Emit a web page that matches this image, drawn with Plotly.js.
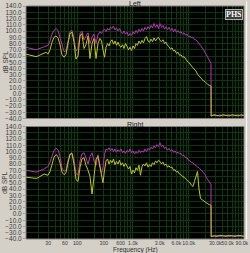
<!DOCTYPE html>
<html>
<head>
<meta charset="utf-8">
<script src="https://cdn.plot.ly/plotly-3.0.1.min.js"></script>
<style>
html,body{margin:0;padding:0;background:#d4d0c8;}
#chart{width:250px;height:253px;}
</style>
</head>
<body>
<div id="chart"></div>
<script>
// Frequency points (Hz)
const freq = [
  12.0, 13.0, 14.2, 15.4, 16.7, 18.1, 19.7, 21.4, 23.2, 25.3, 27.4, 29.8, 32.4, 35.1, 38.2, 41.5, 45.0, 48.9, 53.1, 57.7,
  62.7, 68.1, 74.0, 80.3, 87.2, 94.8, 103, 112, 121, 132, 143, 156, 169, 184, 199, 217, 235, 256,
  272, 289, 308, 328, 349, 371, 395, 420, 447, 475, 506, 538, 572, 609, 648, 690, 734, 781, 831, 884,
  940, 1000, 1064, 1132, 1204, 1281, 1363, 1451, 1543, 1642, 1747, 1859, 1978, 2105, 2239, 2383, 2535, 2697, 2870, 3053,
  3249, 3457, 3678, 3913, 4164, 4430, 4714, 5016, 5337, 5678, 6041, 6428, 6839, 7277, 7742, 8238, 8765, 9322, 9918, 10553,
  11228, 11946, 12711, 13524, 14389, 15310, 16289, 17331, 18440, 19620, 20875, 22210, 23631, 25143,
  25300, 28460, 32220, 36470, 41290, 46730, 52900, 59890, 67790, 76750, 86880, 98360
];

// Left channel (top panel), dB SPL
const leftMag = [
  74, 73, 72, 71, 70.5, 70, 71, 72, 73, 74, 75, 77, 84, 95, 101, 104, 101, 90, 75, 67,
  68, 85, 99, 101, 88, 68, 72, 96, 100, 86, 92, 97, 80, 90, 95, 80, 94, 99,
  96, 100, 103, 99, 104, 101, 106, 104, 108, 102, 105, 100, 104, 99, 96, 100, 95, 98, 92, 96,
  93, 99, 95, 101, 97, 103, 99, 104, 100, 106, 102, 107, 103, 109, 105, 112, 106, 110, 104, 112,
  106, 109, 103, 107, 102, 106, 101, 104, 99, 103, 98, 101, 97, 99, 95, 97, 93, 95, 91, 92,
  89, 90, 86, 86, 82, 80, 77, 74, 70, 66, 61, 56, 52, 48,
  -36, -35, -36, -34, -36, -35, -34, -36, -35, -34, -36, -35
];
const leftYel = [
  63, 62, 61, 60, 59.5, 59, 60, 61.5, 63, 65, 66, 63, 70, 82, 90, 92, 89, 78, 62, 58,
  62, 80, 96, 98, 82, 55, 60, 92, 96, 72, 78, 92, 56, 80, 88, 56, 80, 88,
  84, 70, 58, 74, 80, 76, 83, 86, 79, 84, 77, 82, 76, 74, 78, 72, 80, 75, 70, 74,
  69, 76, 72, 80, 77, 84, 80, 85, 81, 88, 91, 84, 82, 87, 83, 89, 84, 88, 90, 85,
  83, 86, 80, 82, 77, 75, 71, 73, 68, 69, 64, 66, 61, 62, 58, 59, 55, 52, 50, 46,
  44, 41, 38, 36, 31, 28, 25, 23, 20, 19, 16, 14, 13, 12,
  -36, -34, -35, -36, -34, -35, -36, -34, -35, -36, -34, -35
];

// Right channel (bottom panel), dB SPL
const rightMag = [
  70, 69.5, 69, 68, 67.5, 67, 68, 69, 70.5, 72, 74, 76, 83, 94, 102, 105, 103, 92, 74, 68,
  70, 86, 96, 98, 86, 65, 62, 85, 96, 98, 88, 80, 92, 98, 85, 78, 95, 80,
  65, 75, 95, 104, 102, 106, 101, 105, 100, 104, 99, 103, 100, 104, 98, 101, 97, 102, 99, 104,
  98, 101, 96, 100, 97, 102, 98, 101, 99, 104, 100, 105, 102, 107, 104, 109, 106, 111, 108, 114,
  108, 110, 105, 107, 102, 105, 101, 103, 99, 101, 97, 99, 96, 97, 93, 94, 90, 90, 86, 85,
  82, 82, 79, 78, 75, 74, 72, 69, 66, 63, 58, 54, 50, 47,
  -36, -35, -34, -36, -35, -34, -36, -35, -34, -36, -35, -34
];
const rightYel = [
  59, 58.5, 58, 57.5, 57, 57, 58, 60, 62, 64, 63, 62, 68, 80, 91, 95, 92, 82, 67, 63,
  66, 82, 95, 97, 80, 55, 52, 75, 88, 90, 78, 70, 60, 32, 60, 88, 92, 75,
  60, 50, 70, 85, 88, 80, 86, 82, 88, 79, 84, 80, 86, 78, 82, 76, 81, 77, 72, 76,
  64, 70, 66, 74, 70, 78, 62, 76, 80, 77, 82, 75, 79, 76, 82, 79, 85, 82, 86, 84,
  80, 83, 78, 80, 75, 77, 74, 75, 70, 71, 67, 68, 64, 63, 60, 59, 56, 54, 52, 50,
  46, 44, 52, 62, 68, 40, 25, 23, 21, 20, 18, 16, 15, 14,
  -36, -35, -36, -34, -35, -36, -34, -35, -36, -34, -35, -36
];

const xTickVals = [30, 60, 100, 300, 600, 1000, 3000, 6000, 10000, 30000, 50000, 90000];
const xTickText = ['30', '60', '100', '300', '600', '1.0k', '3.0k', '6.0k', '10.0k', '30.0k', '50.0k', '90.0k'];
const xMinorVals = [20, 40, 50, 70, 80, 90, 200, 400, 500, 700, 800, 900, 2000, 4000, 5000, 7000, 8000, 9000, 20000, 40000, 60000, 70000, 80000];

const MAG = '#c030c0';
const YEL = '#c8c80c';
const GRID = '#063c06';
const TXT = '#3a3a3a';
const FONT = 'Liberation Sans, Arial, sans-serif';
const NARROW = 'Liberation Sans Narrow, Arial Narrow, Liberation Sans, sans-serif';

const traces = [
  {x: freq, y: leftMag, xaxis: 'x', yaxis: 'y', mode: 'lines', line: {color: MAG, width: 1}},
  {x: freq, y: leftYel, xaxis: 'x', yaxis: 'y', mode: 'lines', line: {color: YEL, width: 1}},
  {x: freq, y: rightMag, xaxis: 'x2', yaxis: 'y2', mode: 'lines', line: {color: MAG, width: 1}},
  {x: freq, y: rightYel, xaxis: 'x2', yaxis: 'y2', mode: 'lines', line: {color: YEL, width: 1}}
];

function xAxis(showLabels, anchor) {
  return {
    type: 'log', range: [1.079, 4.993], anchor: anchor,
    tickmode: 'array', tickvals: xTickVals, ticktext: xTickText, tickangle: 0,
    showticklabels: showLabels, ticks: '', showgrid: true, gridcolor: GRID, gridwidth: 1,
    minor: {tickmode: 'array', tickvals: xMinorVals, showgrid: true, gridcolor: GRID, gridwidth: 1, ticks: ''},
    zeroline: false, showline: false,
    tickfont: {family: NARROW, size: 5.2, color: TXT}, ticklabelstandoff: 0
  };
}
function yAxis(domain, anchor) {
  return {
    domain: domain, anchor: anchor, range: [-40, 140], dtick: 10, tick0: 0, tickformat: '.1f',
    showgrid: true, gridcolor: GRID, gridwidth: 1, zeroline: false, showline: false,
    ticks: 'outside', ticklen: 2, tickcolor: '#9a9a9a',
    tickfont: {family: FONT, size: 6.5, color: TXT}
  };
}

const layout = {
  width: 250, height: 253,
  margin: {l: 26, r: 6, t: 6, b: 14, pad: 0},
  paper_bgcolor: '#d4d0c8', plot_bgcolor: '#000000',
  showlegend: false,
  xaxis: xAxis(false, 'y'),
  yaxis: yAxis([0.5172, 1], 'x'),
  xaxis2: xAxis(true, 'y2'),
  yaxis2: yAxis([0, 0.4828], 'x2'),
  annotations: [
    {text: 'Left', xref: 'paper', yref: 'paper', x: 0.5, y: 1, yshift: 3, xanchor: 'center', yanchor: 'middle', showarrow: false, font: {family: FONT, size: 7, color: '#202020'}},
    {text: 'Right', xref: 'paper', yref: 'paper', x: 0.5, y: 0.5, yshift: -2, xanchor: 'center', yanchor: 'middle', showarrow: false, font: {family: FONT, size: 7, color: '#202020'}},
    {text: 'Frequency (Hz)', xref: 'paper', yref: 'paper', x: 0.5, y: 0, yshift: -11, xanchor: 'center', yanchor: 'middle', showarrow: false, font: {family: FONT, size: 6.5, color: '#303030'}},
    {text: 'dB SPL', xref: 'paper', yref: 'paper', x: 0, xshift: -21, y: 0.7586, textangle: -90, xanchor: 'center', yanchor: 'middle', showarrow: false, font: {family: FONT, size: 6.5, color: TXT}},
    {text: 'dB SPL', xref: 'paper', yref: 'paper', x: 0, xshift: -21, y: 0.2414, textangle: -90, xanchor: 'center', yanchor: 'middle', showarrow: false, font: {family: FONT, size: 6.5, color: TXT}},
    {text: '<b>PHS</b>', xref: 'paper', yref: 'paper', x: 0.995, y: 0.985, xanchor: 'right', yanchor: 'top', showarrow: false,
     bgcolor: '#3c3c3c', bordercolor: '#b0b0b0', borderwidth: 1, borderpad: 0,
     font: {family: 'Liberation Serif, DejaVu Serif, serif', size: 8, color: '#ffffff'}}
  ],
  shapes: [
    {type: 'rect', xref: 'x domain', yref: 'y domain', x0: 0, x1: 1, y0: 0, y1: 1, line: {color: '#808080', width: 1}},
    {type: 'rect', xref: 'x2 domain', yref: 'y2 domain', x0: 0, x1: 1, y0: 0, y1: 1, line: {color: '#808080', width: 1}},
    {type: 'line', xref: 'paper', yref: 'paper', x0: 1.012, x1: 1.012, y0: 0, y1: 1.02, line: {color: '#ffffff', width: 1}}
  ]
};

Plotly.newPlot('chart', traces, layout, {staticPlot: true, displayModeBar: false});
</script>
</body>
</html>
